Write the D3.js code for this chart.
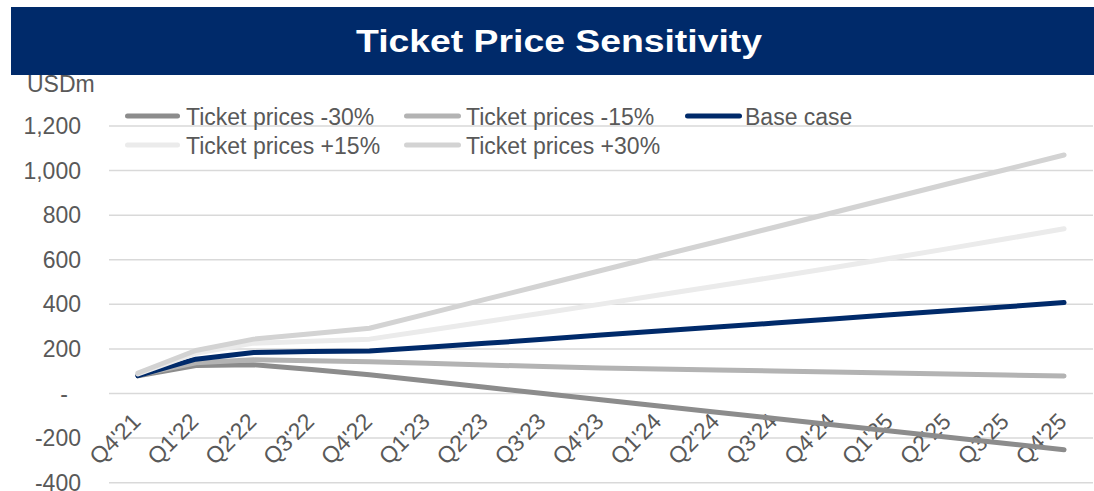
<!DOCTYPE html>
<html>
<head>
<meta charset="utf-8">
<script src="https://cdn.jsdelivr.net/npm/d3@7"></script>
<style>
  html, body { margin: 0; padding: 0; background: #fff; }
  svg { display: block; font-family: "Liberation Sans", Arial, sans-serif; }
</style>
</head>
<body>
<svg id="chart" width="1094" height="491"></svg>
<script>
// Quarter labels along the x axis
const quarters = ["Q4'21","Q1'22","Q2'22","Q3'22","Q4'22","Q1'23","Q2'23","Q3'23","Q4'23",
                  "Q1'24","Q2'24","Q3'24","Q4'24","Q1'25","Q2'25","Q3'25","Q4'25"];

// Scenario series, USD millions
const minus30 = [79, 126, 129, 108, 84, 56, 28, 0, -28, -56, -84, -112, -140, -168, -196, -224, -252];
const minus15 = [84, 138, 151, 147, 143, 136, 128, 121, 114, 110, 105, 101, 97, 92, 88, 83, 79];
const baseCase = [80, 154, 184, 188, 191, 208, 225, 243, 262, 280, 298, 316, 334, 353, 371, 389, 408];
const plus15 = [88, 181, 226, 235, 244, 283, 322, 361, 401, 442, 482, 523, 564, 607, 650, 694, 739];
const plus30 = [92, 193, 244, 268, 293, 357, 422, 487, 552, 617, 681, 746, 811, 876, 941, 1005, 1070];

const seriesNames = ["Ticket prices -30%", "Ticket prices -15%", "Base case", "Ticket prices +15%", "Ticket prices +30%"];
const seriesValues = [minus30, minus15, baseCase, plus15, plus30];
const seriesColors = ["#8c8c8c", "#b3b3b3", "#002a6a", "#ebebeb", "#d3d3d3"];

const yTicks = [-400, -200, 0, 200, 400, 600, 800, 1000, 1200];

(function draw() {
  const svg = d3.select("#chart");
  const W = 1094;
  const plotLeft = 109, plotRight = 1093, plotTop = 126, plotBottom = 482.7;

  const x = d3.scalePoint().domain(quarters).range([plotLeft, plotRight]).padding(0.5);
  const y = d3.scaleLinear().domain([-400, 1200]).range([plotBottom, plotTop]);

  const textColor = "#595959";
  const thousands = d3.format(",");
  const tickText = d => d === 0 ? "-" : thousands(d).replace("\u2212", "-");

  // Title band
  svg.append("rect").attr("x", 11).attr("y", 7).attr("width", W - 11).attr("height", 68).attr("fill", "#002a6a");
  svg.append("text")
    .attr("x", 559).attr("y", 52)
    .attr("text-anchor", "middle")
    .attr("fill", "#fff")
    .attr("font-weight", "bold")
    .attr("font-size", 32)
    .attr("textLength", 406)
    .attr("lengthAdjust", "spacingAndGlyphs")
    .text("Ticket Price Sensitivity");

  // Unit label
  svg.append("text").attr("x", 27).attr("y", 92)
    .attr("fill", textColor).attr("font-size", 23).text("USDm");

  // Horizontal gridlines
  svg.append("g").selectAll("line").data(yTicks).join("line")
    .attr("x1", plotLeft).attr("x2", plotRight)
    .attr("y1", d => y(d)).attr("y2", d => y(d))
    .attr("stroke", "#d9d9d9").attr("stroke-width", 1.5);

  // Y tick labels
  svg.append("g").selectAll("text").data(yTicks).join("text")
    .attr("x", d => d === 0 ? 68 : 81)
    .attr("y", d => y(d))
    .attr("dy", "0.35em")
    .attr("text-anchor", "end")
    .attr("fill", textColor).attr("font-size", 23)
    .text(tickText);

  // X tick labels, rotated
  svg.append("g").selectAll("text").data(quarters).join("text")
    .attr("transform", d => `translate(${x(d) + 4},${423}) rotate(-45)`)
    .attr("text-anchor", "end")
    .attr("fill", textColor).attr("font-size", 23)
    .text(d => d);

  // Scenario lines
  const line = d3.line().x((d, i) => x(quarters[i])).y(d => y(d));
  svg.append("g").selectAll("path").data(seriesValues).join("path")
    .attr("d", d => line(d))
    .attr("fill", "none")
    .attr("stroke", (d, i) => seriesColors[i])
    .attr("stroke-width", 5)
    .attr("stroke-linecap", "round")
    .attr("stroke-linejoin", "round");

  // Legend: swatch start/end, text x, row centre
  const legendPos = [
    { s0: 125, s1: 180, tx: 186, cy: 116 },
    { s0: 404, s1: 461, tx: 466, cy: 116 },
    { s0: 685, s1: 742, tx: 745, cy: 116 },
    { s0: 125, s1: 180, tx: 186, cy: 145 },
    { s0: 404, s1: 461, tx: 466, cy: 145 }
  ];
  const lg = svg.append("g").selectAll("g").data(seriesNames).join("g");
  lg.append("line")
    .attr("x1", (d, i) => legendPos[i].s0 + 2.5).attr("x2", (d, i) => legendPos[i].s1 - 2.5)
    .attr("y1", (d, i) => legendPos[i].cy).attr("y2", (d, i) => legendPos[i].cy)
    .attr("stroke", (d, i) => seriesColors[i])
    .attr("stroke-width", 5).attr("stroke-linecap", "round");
  lg.append("text")
    .attr("x", (d, i) => legendPos[i].tx)
    .attr("y", (d, i) => legendPos[i].cy + 9)
    .attr("fill", textColor).attr("font-size", 23)
    .text(d => d);
})();
</script>
</body>
</html>
